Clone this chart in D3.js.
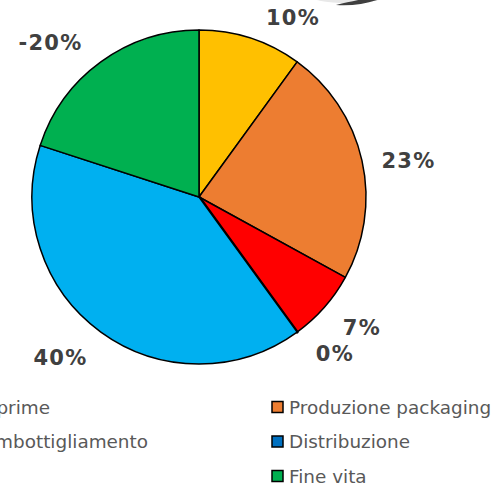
<!DOCTYPE html>
<html><head><meta charset="utf-8">
<script src="https://cdn.jsdelivr.net/npm/d3@7"></script>
<style>html,body{margin:0;padding:0;background:#fff;overflow:hidden}</style>
</head><body>
<svg id="chart" width="494" height="485"></svg>
<script>
// Contributo delle fasi del ciclo di vita (%)
const categories = ["Materie prime", "Produzione packaging", "Imbottigliamento", "Distribuzione", "Consumo", "Fine vita"];
const values = [10, 23, 7, 0, 40, -20];
const colors = ["#FFC000", "#ED7D31", "#FF0000", "#0070C0", "#00B0F0", "#00B050"];

const svg = d3.select("#chart");
const cx = 199, cy = 197, radius = 167;

// piece of the shape sitting above the plot area
const deco = svg.append("g");
deco.append("ellipse").attr("cx", 348).attr("cy", -5).attr("rx", 40).attr("ry", 8).attr("fill", "#e8e8e8");
deco.append("path")
  .attr("d", "M336,5 C352,6 366,4 380,-1 L380,-6 C366,-1 352,1 336,5 Z")
  .attr("fill", "#3f3f3f");

const rows = categories.map((c, i) => ({ name: c, value: values[i], color: colors[i] }));

const pie = d3.pie().sort(null).value(d => Math.abs(d.value));
const arcs = pie(rows);
const arc = d3.arc().innerRadius(0).outerRadius(radius);

const g = svg.append("g").attr("transform", `translate(${cx},${cy})`);
g.selectAll("path.slice").data(arcs).join("path")
  .attr("class", "slice")
  .attr("d", arc)
  .attr("fill", d => d.data.color)
  .attr("stroke", "#000")
  .attr("stroke-width", d => d.data.value === 0 ? 3 : 1.5)
  .attr("stroke-linejoin", "round");

// value labels outside the rim, nudged clear of each other
const labelArc = d3.arc().innerRadius(radius + 38).outerRadius(radius + 38);
const nudge = [[30.7, 15.5], [9.4, 8.2], [9.2, -5.1], [15.5, -9.3], [-18, -5.3], [-28, 11.3]];
g.selectAll("text.val").data(arcs).join("text")
  .attr("class", "val")
  .attr("x", (d, i) => labelArc.centroid(d)[0] + nudge[i][0])
  .attr("y", (d, i) => labelArc.centroid(d)[1] + nudge[i][1])
  .attr("dy", "0.36em")
  .attr("text-anchor", "middle")
  .attr("font-family", "DejaVu Sans, Verdana, sans-serif")
  .attr("font-weight", "bold")
  .attr("font-size", 21)
  .attr("letter-spacing", 1.3)
  .attr("fill", "#404040")
  .text(d => `${d.data.value}%`);

// legend, two columns
const legend = svg.append("g")
  .attr("font-family", "DejaVu Sans, Verdana, sans-serif")
  .attr("font-size", 18.4)
  .attr("fill", "#595959");
const rowY = [407, 441.5, 476];
const rightSwatchX = 272, rightTextX = 289;
const leftTextEnd = [50, 148, -6];
rows.forEach((d, i) => {
  const col = i % 2, row = Math.floor(i / 2);
  const y = rowY[row];
  const t = legend.append("text")
    .attr("y", y)
    .attr("dy", "0.36em")
    .text(d.name);
  let swatchX;
  if (col === 1) {
    t.attr("x", rightTextX).attr("text-anchor", "start");
    swatchX = rightSwatchX;
  } else {
    t.attr("x", leftTextEnd[row]).attr("text-anchor", "end");
    swatchX = leftTextEnd[row] - t.node().getComputedTextLength() - 17;
  }
  legend.append("rect")
    .attr("x", swatchX).attr("y", y - 5.5)
    .attr("width", 11).attr("height", 11)
    .attr("fill", d.color)
    .attr("stroke", "#000").attr("stroke-width", 1.5);
});
</script>
</body></html>
